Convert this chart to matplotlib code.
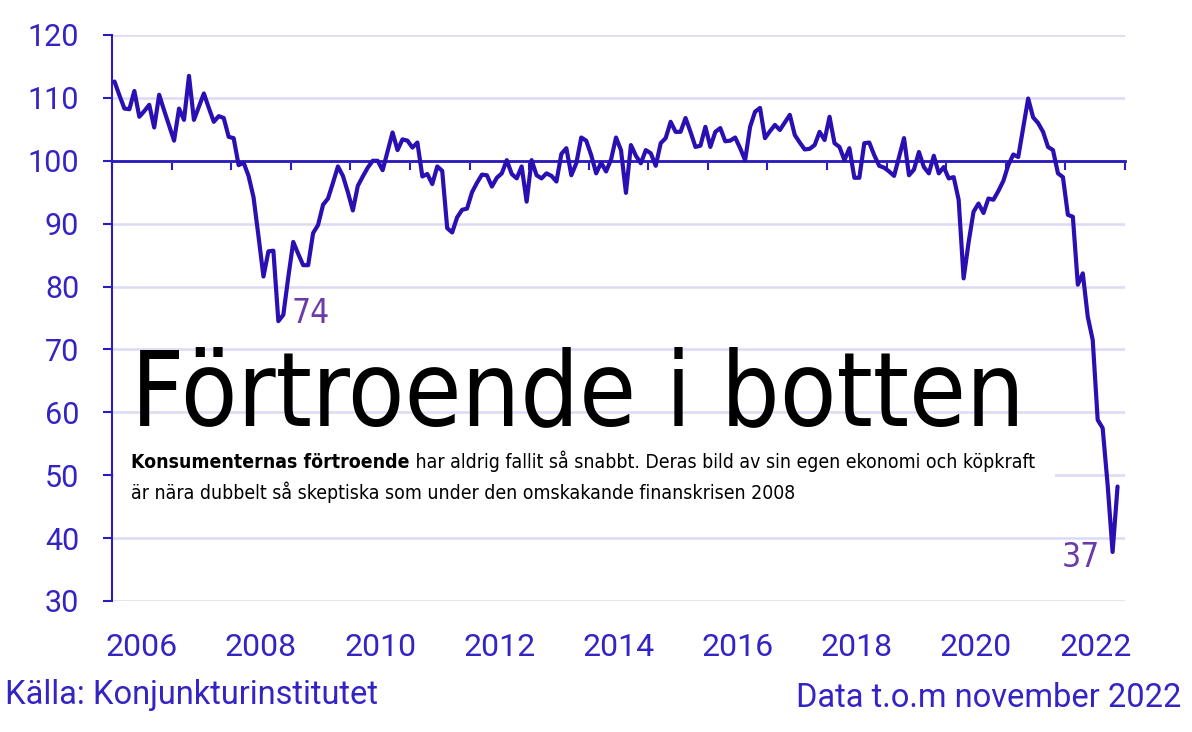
import numpy as np
import pandas as pd
import matplotlib
matplotlib.use('Agg')
import matplotlib.pyplot as plt
from matplotlib import font_manager as fm
from matplotlib.patches import Rectangle


# consumer confidence indicator, monthly, jan 2006 - nov 2022
cci_2006 = [112.6, 110.4, 108.3, 108.2, 111.1, 107.0, 107.9, 108.9, 105.3, 110.5, 108.0, 105.6]
cci_2007 = [103.2, 108.3, 106.5, 113.5, 106.5, 108.6, 110.7, 108.4, 106.2, 107.1, 106.8, 103.8]
cci_2008 = [103.6, 99.3, 99.7, 97.6, 94.2, 88.0, 81.6, 85.6, 85.7, 74.5, 75.5, 81.5]
cci_2009 = [87.1, 85.2, 83.4, 83.4, 88.5, 89.8, 93.0, 94.0, 96.5, 99.1, 97.6, 95.0]
cci_2010 = [92.1, 96.0, 97.5, 98.9, 100.0, 100.0, 98.5, 101.5, 104.5, 101.7, 103.4, 103.2]
cci_2011 = [102.1, 102.9, 97.5, 97.9, 96.3, 99.1, 98.4, 89.3, 88.6, 91.0, 92.2, 92.4]
cci_2012 = [95.0, 96.5, 97.8, 97.7, 95.9, 97.3, 98.0, 100.1, 97.9, 97.2, 99.1, 93.5]
cci_2013 = [100.1, 97.7, 97.2, 98.0, 97.6, 96.7, 101.1, 102.0, 97.7, 99.6, 103.7, 103.2]
cci_2014 = [100.9, 98.0, 99.7, 98.3, 100.2, 103.7, 101.7, 94.9, 102.5, 100.8, 99.6, 101.7]
cci_2015 = [101.2, 99.2, 102.8, 103.6, 106.2, 104.6, 104.6, 106.8, 104.6, 102.2, 102.4, 105.4]
cci_2016 = [102.2, 104.6, 105.2, 103.1, 103.2, 103.7, 102.0, 100.1, 105.4, 107.8, 108.4, 103.6]
cci_2017 = [104.7, 105.7, 104.9, 106.1, 107.3, 104.1, 102.9, 101.8, 101.9, 102.5, 104.6, 103.3]
cci_2018 = [107.0, 102.8, 102.2, 100.1, 102.0, 97.3, 97.3, 102.8, 102.9, 100.9, 99.2, 98.9]
cci_2019 = [98.3, 97.6, 100.6, 103.6, 97.7, 98.6, 101.4, 99.0, 98.0, 100.8, 98.0, 99.0]
cci_2020 = [97.2, 97.4, 93.8, 81.3, 87.0, 91.9, 93.2, 91.7, 94.0, 93.8, 95.2, 96.8]
cci_2021 = [99.3, 101.0, 100.6, 105.2, 109.9, 106.9, 106.0, 104.6, 102.2, 101.7, 98.0, 97.4]
cci_2022 = [91.4, 91.1, 80.3, 82.1, 75.2, 71.5, 58.8, 57.5, 48.5, 37.8, 48.2]

first_month, last_month = '2006-01', '2022-11'
y_ticks = [30, 40, 50, 60, 70, 80, 90, 100, 110, 120]
baseline_value = 100
label_years = [2006, 2008, 2010, 2012, 2014, 2016, 2018, 2020, 2022]
low_labels = ['74', '37']   # 2008 trough, 2022 trough

title = 'Förtroende i botten'
lead_bold = 'Konsumenternas förtroende'
lead_rest = ' har aldrig fallit så snabbt. Deras bild av sin egen ekonomi och köpkraft'
lead_line2 = 'är nära dubbelt så skeptiska som under den omskakande finanskrisen 2008'
source = 'Källa: Konjunkturinstitutet'
note = 'Data t.o.m november 2022'

LINE = '#2a10b2'
AXIS = '#2c1bbd'
TICK = '#3424c4'
GRID = '#dcdaf4'
PURPLE = '#6b3ca8'

W, H = 1192, 732


def narrow_font():
    names = {f.name for f in fm.fontManager.ttflist}
    if 'Liberation Sans Narrow' in names:
        return 'Liberation Sans Narrow', 'normal'
    for f in fm.fontManager.ttflist:
        if f.name == 'DejaVu Sans' and f.stretch == 'condensed':
            return 'DejaVu Sans', 'condensed'
    return 'Roboto', 'normal'


def fit_width(txt, target, renderer):
    w = txt.get_window_extent(renderer).width
    txt.set_fontsize(txt.get_fontsize() * target / w)


def main():
    plt.rcParams['font.family'] = ['Roboto', 'DejaVu Sans']
    cci = (cci_2006 + cci_2007 + cci_2008 + cci_2009 + cci_2010 + cci_2011
           + cci_2012 + cci_2013 + cci_2014 + cci_2015 + cci_2016 + cci_2017
           + cci_2018 + cci_2019 + cci_2020 + cci_2021 + cci_2022)
    months = pd.period_range(first_month, last_month, freq='M')
    x = months.year + (months.month - 0.5) / 12
    s = pd.Series(cci, index=x)

    fig = plt.figure(figsize=(W / 100, H / 100), dpi=100)
    ax = fig.add_axes([112 / W, 131 / H, 1013 / W, 566 / H])
    ax.set_xlim(2006, 2023)
    ax.set_ylim(30, 120)

    ax.set_axisbelow(True)
    ax.grid(axis='y', color=GRID, lw=1.8)
    ax.grid(axis='x', visible=False)
    for side in ['top', 'right', 'bottom']:
        ax.spines[side].set_visible(False)
    ax.spines['left'].set_color(AXIS)
    ax.spines['left'].set_linewidth(1.5)

    ax.set_yticks(y_ticks)
    ax.tick_params(axis='y', length=6.5, width=1.5, color=AXIS,
                   labelcolor=TICK, labelsize=22, pad=17)
    ax.set_xticks([y + 0.5 for y in label_years], labels=[str(y) for y in label_years])
    ax.tick_params(axis='x', length=0, labelcolor=TICK, labelsize=23, pad=23)

    # reference line at 100 with yearly ticks hanging off it
    ax.axhline(baseline_value, color=AXIS, lw=2, zorder=2.5)
    ylo, yhi = ax.get_ylim()
    ref = ax.secondary_xaxis((baseline_value - ylo) / (yhi - ylo))
    ref.set_alignment('bottom')
    ref.set_xticks(range(2006, 2024))
    ref.tick_params(axis='x', length=6.5, width=1.5, color=AXIS, labelbottom=False)
    ref.spines['bottom'].set_color(AXIS)
    ref.spines['bottom'].set_linewidth(2)

    ax.plot(s.index, s.values, color=LINE, lw=3, zorder=3,
            solid_joinstyle='round', solid_capstyle='round')

    # trough labels
    i08 = s.loc[2008:2010].idxmin()
    i22 = s.idxmin()
    nfam, nstretch = narrow_font()
    ax.annotate(low_labels[0], xy=(i08, s[i08]), xytext=(13, -2), textcoords='offset pixels',
                ha='left', va='baseline', color=PURPLE, fontsize=24,
                family=nfam, fontstretch=nstretch, zorder=4)
    ax.annotate(low_labels[1], xy=(i22, s[i22]), xytext=(-13, -15), textcoords='offset pixels',
                ha='right', va='baseline', color=PURPLE, fontsize=24,
                family=nfam, fontstretch=nstretch, zorder=4)

    renderer = fig.canvas.get_renderer()

    # headline
    t_title = fig.text(131 / W, 1 - 425 / H, title, ha='left', va='baseline',
                       color='black', fontsize=90, family=nfam, fontstretch=nstretch)
    fit_width(t_title, 895, renderer)

    # lead text, two lines, first one starts in bold
    t1 = fig.text(131 / W, 1 - 468 / H, lead_bold, ha='left', va='baseline',
                  color='black', fontsize=15, fontweight='bold',
                  family=nfam, fontstretch=nstretch)
    t1b = fig.text(0, 1 - 468 / H, lead_rest, ha='left', va='baseline', color='black',
                   fontsize=15, family=nfam, fontstretch=nstretch)
    t2 = fig.text(131 / W, 1 - 499 / H, lead_line2, ha='left', va='baseline',
                  color='black', fontsize=15, family=nfam, fontstretch=nstretch)
    w1 = t1.get_window_extent(renderer).width + t1b.get_window_extent(renderer).width
    w2 = t2.get_window_extent(renderer).width
    fs = 15 * 0.5 * (890 / w1 + 680 / w2)
    for t in (t1, t1b, t2):
        t.set_fontsize(fs)
    b1 = t1.get_window_extent(renderer)
    t1b.set_x(b1.x1 / W)

    # white panel behind the lead text (hides the 50 gridline)
    boxes = [t.get_window_extent(renderer) for t in (t1, t1b, t2)]
    bx0 = ax.get_window_extent(renderer).x0 + 2
    bx1 = max(b.x1 for b in boxes) + 20
    by0 = min(b.y0 for b in boxes) - 6
    by1 = max(b.y1 for b in boxes) + 4
    panel = Rectangle((bx0 / W, by0 / H), (bx1 - bx0) / W, (by1 - by0) / H,
                      transform=fig.transFigure, facecolor='white',
                      edgecolor='none', zorder=1)
    ax.add_patch(panel)

    fig.text(5 / W, 1 - 704 / H, source, ha='left', va='baseline', color=TICK, fontsize=23.5)
    fig.text(1181 / W, 1 - 707 / H, note, ha='right', va='baseline', color=TICK, fontsize=23.5)

    fig.savefig('out.png', dpi=100, facecolor='white')


if __name__ == '__main__':
    main()
